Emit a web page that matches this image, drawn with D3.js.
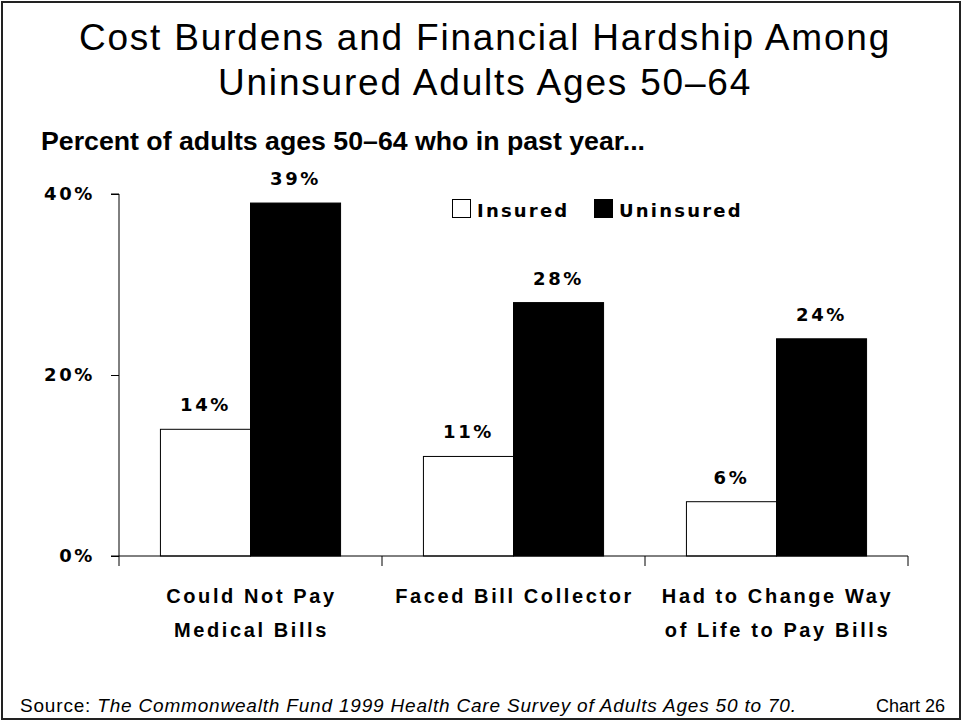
<!DOCTYPE html>
<html>
<head>
<meta charset="utf-8">
<script src="https://cdn.jsdelivr.net/npm/d3@7"></script>
<style>
  html, body { margin: 0; padding: 0; background: #fff; }
  svg { display: block; }
</style>
</head>
<body>
<svg id="chart" width="965" height="723"></svg>
<script>
// Survey categories (two-line labels) and the share of adults 50–64 in each
const categories = [
  ["Could Not Pay", "Medical Bills"],
  ["Faced Bill Collector"],
  ["Had to Change Way", "of Life to Pay Bills"]
];
const seriesNames = ["Insured", "Uninsured"];
const insured = [14, 11, 6];
const uninsured = [39, 28, 24];
const yTicks = [0, 20, 40];

const titleLines = ["Cost Burdens and Financial Hardship Among", "Uninsured Adults Ages 50–64"];
const subtitle = "Percent of adults ages 50–64 who in past year...";
const sourceLabel = "Source: ";
const sourceTitle = "The Commonwealth Fund 1999 Health Care Survey of Adults Ages 50 to 70.";
const chartNumber = "Chart 26";

const sans = "'Liberation Sans', Arial, sans-serif";
const wide = "'DejaVu Sans', Verdana, sans-serif";

const svg = d3.select("#chart");

// Slide frame
svg.append("rect")
  .attr("x", 2).attr("y", 2).attr("width", 958).attr("height", 717)
  .attr("fill", "#fff").attr("stroke", "#222").attr("stroke-width", 2);

// Title, two centred lines
svg.append("g")
  .selectAll("text").data(titleLines).join("text")
  .attr("x", 485).attr("y", (d, i) => 50 + i * 45)
  .attr("text-anchor", "middle")
  .attr("font-family", sans).attr("font-size", 37)
  .attr("letter-spacing", 1.8)
  .text(d => d);

// Subtitle, set in a condensed bold
svg.append("text")
  .attr("x", 41).attr("y", 150)
  .attr("font-family", sans).attr("font-weight", "bold").attr("font-size", 26)
  .attr("textLength", 604).attr("lengthAdjust", "spacingAndGlyphs")
  .text(subtitle);

// Plot geometry
const x0 = 119, x1 = 908, yBase = 556, yTop = 194;
const x = d3.scaleBand().domain(d3.range(categories.length)).range([x0, x1]);
const xs = d3.scaleBand().domain(seriesNames).range([0, x.bandwidth()]).paddingOuter(0.46).paddingInner(0);
const y = d3.scaleLinear().domain([0, 40]).range([yBase, yTop]);

const rows = categories.map((c, i) => ({ i, values: [insured[i], uninsured[i]] }));

// Bars with value labels
const g = svg.append("g");
rows.forEach(r => {
  seriesNames.forEach((s, k) => {
    const v = r.values[k];
    const bx = x(r.i) + xs(s);
    g.append("rect")
      .attr("x", bx).attr("y", y(v))
      .attr("width", xs.bandwidth()).attr("height", yBase - y(v))
      .attr("fill", k === 0 ? "#fff" : "#000")
      .attr("stroke", "#000").attr("stroke-width", 1);
    g.append("text")
      .attr("x", bx + xs.bandwidth() / 2).attr("y", y(v) - 18)
      .attr("text-anchor", "middle")
      .attr("font-family", wide).attr("font-weight", "bold").attr("font-size", 18)
      .attr("letter-spacing", 2.6)
      .text(v + "%");
  });
});

// Y axis
const yAxis = d3.axisLeft(y).tickValues(yTicks).tickFormat(d => d + "%").tickSize(8).tickPadding(16);
const ya = svg.append("g").attr("transform", `translate(${x0},0)`).call(yAxis);
ya.select(".domain").attr("d", `M${-8},${yTop}H0V${yBase}`).attr("stroke", "#000");
ya.selectAll(".tick line").attr("stroke", "#000");
ya.selectAll(".tick text")
  .attr("font-family", wide).attr("font-weight", "bold").attr("font-size", 18)
  .attr("letter-spacing", 2.6).attr("fill", "#000");

// X axis baseline and category dividers
const xa = svg.append("g").attr("transform", `translate(0,${yBase})`);
xa.append("line").attr("x1", x0 - 8).attr("x2", x1).attr("y1", 0).attr("y2", 0).attr("stroke", "#000");
xa.selectAll("line.tk").data(d3.range(categories.length + 1)).join("line")
  .attr("class", "tk")
  .attr("x1", i => x0 + i * x.bandwidth()).attr("x2", i => x0 + i * x.bandwidth())
  .attr("y1", 0).attr("y2", 10).attr("stroke", "#000");

// Category labels
categories.forEach((lines, i) => {
  svg.append("text")
    .attr("text-anchor", "middle")
    .attr("font-family", sans).attr("font-weight", "bold").attr("font-size", 20)
    .attr("letter-spacing", 2.6)
    .selectAll("tspan").data(lines).join("tspan")
    .attr("x", x(i) + x.bandwidth() / 2 + 1).attr("y", (d, j) => 603 + j * 34)
    .text(d => d);
});

// Legend
const legend = svg.append("g").attr("transform", "translate(452,199)");
const legendX = [0, 142];
seriesNames.forEach((s, k) => {
  const lg = legend.append("g").attr("transform", `translate(${legendX[k]},0)`);
  lg.append("rect").attr("x", 0.5).attr("y", 0.5).attr("width", 18).attr("height", 18)
    .attr("fill", k === 0 ? "#fff" : "#000").attr("stroke", "#000").attr("stroke-width", 1);
  lg.append("text").attr("x", 25).attr("y", 18)
    .attr("font-family", wide).attr("font-weight", "bold").attr("font-size", 18)
    .attr("letter-spacing", 2.2)
    .text(s);
});

// Footer
const src = svg.append("text").attr("x", 20).attr("y", 712)
  .attr("font-family", sans).attr("font-size", 19)
  .attr("textLength", 776).attr("lengthAdjust", "spacing");
src.append("tspan").text(sourceLabel);
src.append("tspan").attr("font-style", "italic").text(sourceTitle);
svg.append("text").attr("x", 945).attr("y", 712).attr("text-anchor", "end")
  .attr("font-family", sans).attr("font-size", 18)
  .text(chartNumber);
</script>
</body>
</html>
